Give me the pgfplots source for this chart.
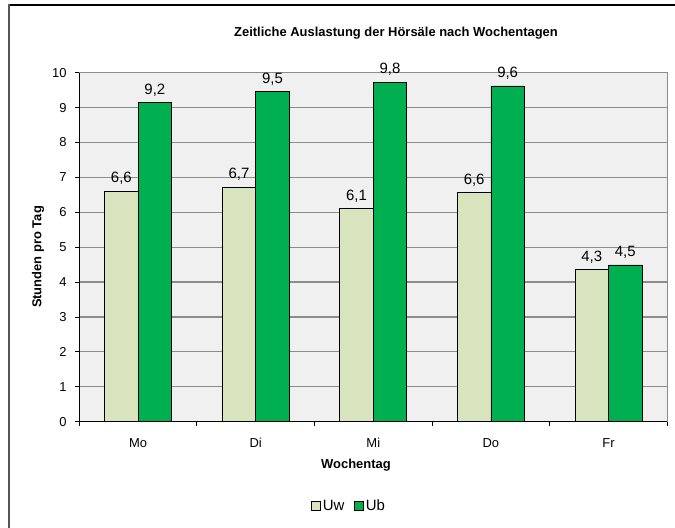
\documentclass[border=0pt]{standalone}
\usepackage{fontspec}
\setmainfont{Liberation Sans}
\usepackage{pgfplots}
\pgfplotsset{compat=1.18}
\definecolor{uw}{HTML}{D7E4BD}
\definecolor{ub}{HTML}{00B050}
\definecolor{plotbg}{HTML}{F0F0F0}
\definecolor{gridc}{HTML}{8C8C8C}
\definecolor{framec}{HTML}{555555}
\begin{document}
\begin{tikzpicture}[x=1bp,y=1bp]
\useasboundingbox (0,0) rectangle (675,528);
\draw[line width=1.3bp, black] (9,523) -- (676,523);
\draw[line width=1.6bp, framec] (9,523.6) -- (9,-1);
\begin{axis}[
  at={(79.3bp,106.3bp)}, anchor=south west,
  scale only axis, width=588bp, height=349bp,
  xmin=-0.5, xmax=4.5, ymin=0, ymax=10,
  ybar=0pt, bar width=33.5bp,
  axis background/.style={fill=plotbg, draw=gridc, line width=1.2bp},
  axis x line*=bottom, axis y line*=left,
  axis line style={line width=1.2bp, black},
  ymajorgrids, grid style={gridc, line width=1.2bp},
  ytick={0,1,...,10},
  xtick={-0.5,0.5,...,4.5}, xticklabels={},
  extra x ticks={0,1,2,3,4},
  extra x tick labels={Mo,Di,Mi,Do,Fr},
  extra x tick style={tick style={draw=none}, xticklabel style={anchor=center, yshift=-17bp}},
  tick align=outside, major tick length=4bp,
  tick style={black, line width=0.9bp},
  /pgf/number format/assume math mode=true,
  ticklabel style={font=\fontsize{13}{13}\selectfont, inner sep=0pt},
  yticklabel style={anchor=east, xshift=-8.6bp},
  point meta=explicit symbolic,
  nodes near coords,
  every node near coord/.append style={font=\fontsize{15}{15}\selectfont, anchor=south, inner sep=0pt, yshift=6bp, black},
  legend style={at={(0.459,-0.2415)}, anchor=center, draw=none, fill=none,
    legend columns=2, font=\fontsize{15}{15}\selectfont,
    /tikz/every even column/.append style={column sep=8bp}},
  every axis plot post/.append style={legend image code/.code={\draw[#1, draw=black, line width=0.8bp] (0bp,-4.3bp) rectangle (8.7bp,4.3bp);}},
]
\addplot[fill=uw, draw=black, line width=0.8bp] table[x=x, y=y, meta=lab] {
x y lab
0 6.61 6,6
1 6.72 6,7
2 6.10 6,1
3 6.57 6,6
4 4.35 4,3
};
\addplot[fill=ub, draw=black, line width=0.8bp] table[x=x, y=y, meta=lab] {
x y lab
0 9.14 9,2
1 9.45 9,5
2 9.73 9,8
3 9.62 9,6
4 4.49 4,5
};
\legend{Uw,Ub}
\end{axis}
\node[font=\bfseries\fontsize{13}{13}\selectfont] at (396,495) {Zeitliche Auslastung der Hörsäle nach Wochentagen};
\node[font=\bfseries\fontsize{13}{13}\selectfont, rotate=90] at (38,271) {Stunden pro Tag};
\node[font=\bfseries\fontsize{13}{13}\selectfont] at (356,63) {Wochentag};
\end{tikzpicture}
\end{document}
